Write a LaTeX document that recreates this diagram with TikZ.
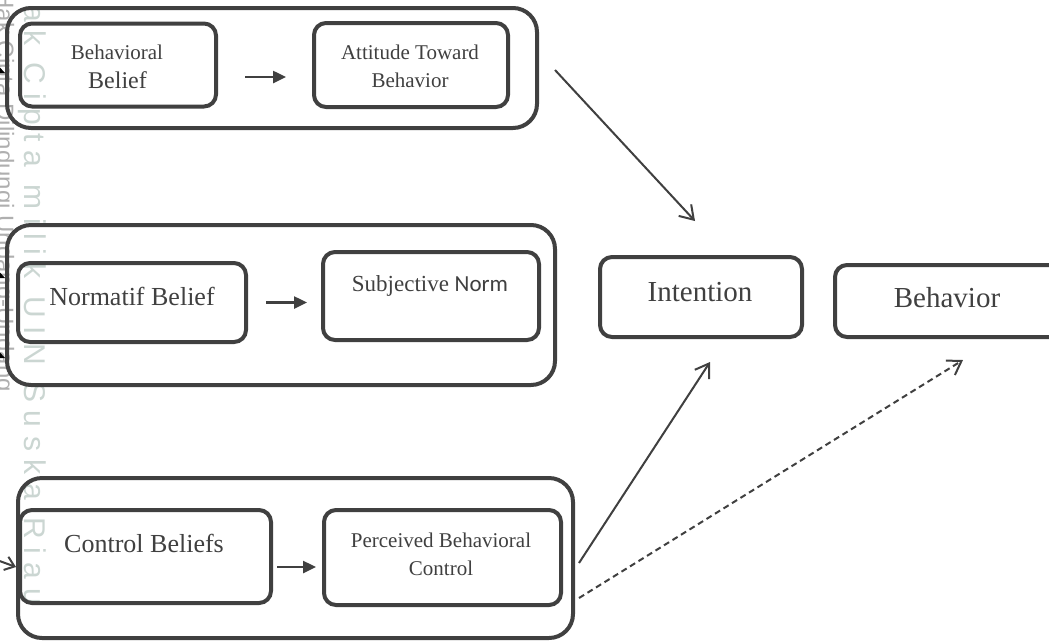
\documentclass[tikz,border=0pt]{standalone}
\usepackage{fontspec}
\setmainfont{Liberation Serif}
\newfontfamily\wmfont{Liberation Sans}
\newfontfamily\normfont{Carlito}
\usetikzlibrary{arrows.meta,calc}
\definecolor{ink}{HTML}{404040}
\definecolor{wmark}{RGB}{203,214,210}
\definecolor{wmarkdark}{RGB}{175,175,175}
\begin{document}
\begin{tikzpicture}[x=1pt,y=-1pt,
  box/.style={draw=ink, line width=4pt, rounded corners=12pt, inner sep=0pt},
  group/.style={draw=ink, line width=4pt, rounded corners=24pt, inner sep=0pt},
  lbl/.style={text=ink, inner sep=0pt, align=center},
  link/.style={draw=ink, line width=2.5pt, -{Triangle[length=13pt,width=12pt]}},
  flow/.style={draw=ink, line width=2pt, -{Straight Barb[length=13pt,width=17pt]}},
  dflow/.style={flow, dash pattern=on 6pt off 4pt},
  edge tip/.style={draw=black, line width=1.6pt, -{Stealth[length=8pt,width=7pt]}},
]
\useasboundingbox (0,0) rectangle (1049,641);
\fill[white] (0,0) rectangle (1049,641);

% watermark
\node[rotate=-90, text=wmark, inner sep=0pt, font=\wmfont\fontsize{30}{30}\selectfont] (wm1) at (32,290)
  {\makebox[630pt][s]{H a k~ C i p t a~ m i l i k~ U I N~ S u s k a~ R i a u}};
\node[rotate=-90, anchor=east, text=wmarkdark, inner sep=0pt, font=\wmfont\fontsize{24}{24}\selectfont] (wm2) at (3,392)
  {Hak Cipta Dilindungi Undang-Undang};

% groups
\node[group, minimum width=530pt, minimum height=120pt] (gtop) at (272,68) {};
\node[group, minimum width=548pt, minimum height=160pt] (gmid) at (281,305) {};
\node[group, minimum width=555pt, minimum height=160pt] (gbot) at (295.5,558) {};

% inner boxes
\node[box, minimum width=196pt, minimum height=83pt] (bb) at (118,65) {};
\node[box, minimum width=194pt, minimum height=84pt] (att) at (411,65) {};
\node[box, minimum width=228pt, minimum height=79pt] (nb) at (132,302.5) {};
\node[box, minimum width=216pt, minimum height=88pt] (sn) at (431,296) {};
\node[box, minimum width=251pt, minimum height=93pt] (cb) at (145.5,556.5) {};
\node[box, minimum width=237pt, minimum height=95pt] (pbc) at (442.5,557.5) {};
\node[box, minimum width=202pt, minimum height=80pt] (int) at (701,297) {};
\node[box, minimum width=230pt, minimum height=72pt] (beh) at (950,301) {};

% labels
\node[lbl, font=\fontsize{21}{21}\selectfont] (bb1) at (117,52) {Behavioral};
\node[lbl, font=\fontsize{24}{24}\selectfont] (bb2) at (117.5,80) {Belief};
\node[lbl, font=\fontsize{21}{21}\selectfont] (att1) at (410,52) {Attitude Toward};
\node[lbl, font=\fontsize{21}{21}\selectfont] (att2) at (410,80) {Behavior};
\node[lbl, font=\fontsize{26}{26}\selectfont] (nbt) at (132,296) {Normatif Belief};
\node[lbl, font=\fontsize{23}{23}\selectfont] (snt) at (430,286) {Subjective {\normfont Norm}};
\node[lbl, font=\fontsize{29}{29}\selectfont] (intt) at (700,292) {Intention};
\node[lbl, font=\fontsize{29}{29}\selectfont] (beht) at (947,298) {Behavior};
\node[lbl, font=\fontsize{26}{26}\selectfont] (cbt) at (144,543) {Control Beliefs};
\node[lbl, font=\fontsize{21}{21}\selectfont] (pbc1) at (441,540) {Perceived Behavioral};
\node[lbl, font=\fontsize{21}{21}\selectfont] (pbc2) at (441,568) {Control};

% short arrows inside groups
\draw[link, shorten <=27pt, shorten >=26pt] ([yshift=-12pt]bb.east) -- ([yshift=-12pt]att.west);
\draw[link, shorten <=18pt, shorten >=14pt] (nb.east) -- (nb.east -| sn.west);
\draw[link, shorten <=4pt, shorten >=6pt] ([yshift=-10.5pt]cb.east) -- ([yshift=-10.5pt]cb.east -| pbc.west);

% long arrows
\draw[flow] ($(gtop.east)+(16,2)$) -- ($(int.north)+(-6,-34)$);
\draw[flow] ($(gbot.east)+(4,5)$) -- ($(int.south)+(9,23)$);
\draw[dflow] ($(gbot.east)+(4,40)$) -- ($(beh.south)+(13,21)$);

% cropped arrows entering from the left edge
\coordinate (l1) at (-25,60);
\coordinate (l2) at (-25,265);
\coordinate (l3) at (-25,345);
\coordinate (l4) at (-25,552);
\draw[edge tip] (l1) -- (gtop.west |- 0,73);
\draw[edge tip] (l2) -- (gmid.west |- 0,278);
\draw[edge tip] (l3) -- (gmid.west |- 0,358);
\draw[draw=ink, line width=2pt, -{Straight Barb[length=9pt,width=14pt]}] (l4) -- (gbot.west |- 0,567);
\end{tikzpicture}
\end{document}
